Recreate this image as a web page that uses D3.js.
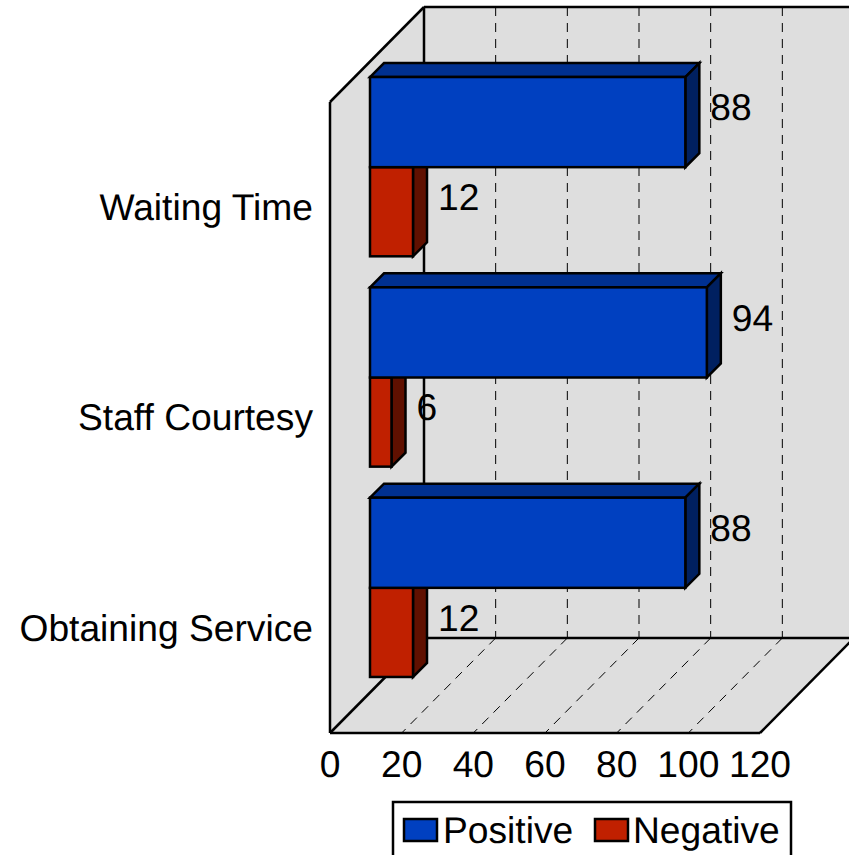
<!DOCTYPE html>
<html><head><meta charset="utf-8">
<script src="https://cdn.jsdelivr.net/npm/d3@7"></script>
<style>html,body{margin:0;padding:0;background:#fff;overflow:hidden}svg{display:block}text{font-family:"Liberation Sans",Arial,sans-serif;fill:#000;text-rendering:geometricPrecision}</style>
</head><body><svg id="c" width="849" height="855"></svg>
<script>
const categories = ["Waiting Time","Staff Courtesy","Obtaining Service"];
const seriesNames = ["Positive","Negative"];
const positive = [88,94,88];
const negative = [12,6,12];
const xTicks = [0,20,40,60,80,100,120];
const colors = {
  Positive:{front:"#0040c0",top:"#003090",side:"#002060"},
  Negative:{front:"#c02000",top:"#901800",side:"#601000"}
};
const W=849, plotL=330, plotR=760, plotT=102, plotB=733, depth=94, barDepth=14, barOffset=40, fs=37.2;
const svg=d3.select("#c");
const x=d3.scaleLinear().domain([0,120]).range([plotL,plotR]);
const y=d3.scaleBand().domain(categories).range([plotT,plotB]);
const sub=d3.scaleBand().domain(seriesNames).range([0,y.bandwidth()*6/7]);
const wall="#dedede";
const line=(a,b,sw,dash)=>svg.append("line").attr("x1",a[0]).attr("y1",a[1]).attr("x2",b[0]).attr("y2",b[1]).attr("stroke","#000").attr("stroke-width",sw).attr("stroke-dasharray",dash||null);
const bx=plotL+depth, by=plotB-depth-1, ty=plotT-depth-1;
// walls
svg.append("polygon").attr("fill",wall).attr("points",[[plotL,plotT],[bx,ty],[plotR+depth,ty],[plotR+depth,by],[plotR,plotB],[plotL,plotB]].join(" "));
// gridlines
xTicks.slice(1).forEach(t=>{
  line([x(t)+depth,ty],[x(t)+depth,by],1,"9 7");
  if(t<120) line([x(t)+depth,by],[x(t),plotB],1,"9 7");
});
line([bx,ty],[bx,by],2.5);
line([bx,ty],[W+10,ty],2.5);
line([bx,by],[W+10,by],2.5);
line([plotL,plotB],[bx,by],2.5);
line([plotL,plotT],[bx,ty],2.5);
line([plotL,plotT],[plotL,plotB],2.5);
line([plotL,plotB],[plotR,plotB],2.5);
line([plotR,plotB],[plotR+depth,by],2.5);
// bars
function bar(cat,name,v){
  const c=colors[name];
  const x0=x(0)+barOffset, x1=x(v)+barOffset;
  const y0=y(cat)+y.bandwidth()/2-barOffset-sub.bandwidth()+sub(name);
  const y1=y0+sub.bandwidth()-(name==="Negative"?1:0);
  const g=svg.append("g").attr("stroke","#000").attr("stroke-width",2.5).attr("stroke-linejoin","miter");
  if(name==="Positive") g.append("polygon").attr("fill",c.top).attr("points",[[x0,y0],[x0+barDepth,y0-barDepth],[x1+barDepth,y0-barDepth],[x1,y0]].join(" "));
  g.append("polygon").attr("fill",c.side).attr("points",[[x1,y0],[x1+barDepth,y0-barDepth],[x1+barDepth,y1-barDepth],[x1,y1]].join(" "));
  g.append("rect").attr("x",x0).attr("y",y0).attr("width",x1-x0).attr("height",y1-y0).attr("fill",c.front);
  svg.append("text").attr("x",x1+25).attr("y",(y0+y1)/2-barDepth-1).attr("dy","0.36em").attr("font-size",fs).text(v);
}
// negative drawn first so the positive bar's lower border stays on top
categories.forEach((cat,i)=>{ bar(cat,"Negative",negative[i]); bar(cat,"Positive",positive[i]); });
// axes
const ax=svg.append("g").attr("transform",`translate(-0.5,${plotB})`).call(d3.axisBottom(x).tickValues(xTicks).tickSize(0).tickPadding(18));
ax.select(".domain").remove();
ax.selectAll("text").attr("font-size",fs).attr("font-family",'"Liberation Sans",Arial,sans-serif').attr("fill","#000");
const ay=svg.append("g").attr("transform",`translate(${plotL},1)`).call(d3.axisLeft(y).tickSize(0).tickPadding(17));
ay.select(".domain").remove();
ay.selectAll("text").attr("font-size",fs).attr("font-family",'"Liberation Sans",Arial,sans-serif').attr("fill","#000");
// legend
svg.append("rect").attr("x",393).attr("y",802).attr("width",398).attr("height",70).attr("fill","#fff").attr("stroke","#000").attr("stroke-width",2.5);
const lx=[404,595], tx=[443,633];
seriesNames.forEach((n,i)=>{
  svg.append("rect").attr("x",lx[i]).attr("y",819).attr("width",33).attr("height",22).attr("fill",colors[n].front).attr("stroke","#000").attr("stroke-width",2.5);
  svg.append("text").attr("x",tx[i]).attr("y",843).attr("font-size",fs).text(n);
});
</script></body></html>
